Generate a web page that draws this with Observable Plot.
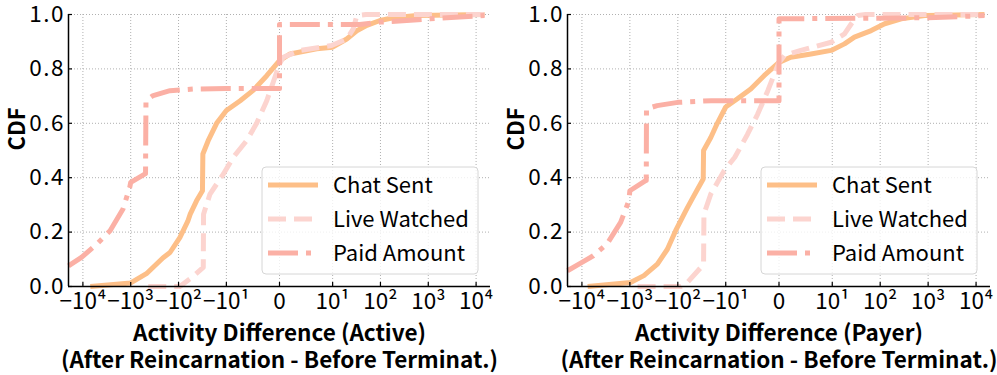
<!DOCTYPE html>
<html><head><meta charset="utf-8">
<script src="https://cdn.jsdelivr.net/npm/d3@7"></script>
<script src="https://cdn.jsdelivr.net/npm/@observablehq/plot@0.6"></script>
<style>
body{margin:0;background:#fff;}
#wrap{display:flex;width:997px;height:375px;overflow:hidden;}
.panel{position:relative;}
.legend{position:absolute;}
g[aria-label="y-axis tick label"] text{letter-spacing:1.5px;}
</style></head>
<body><div id="wrap"></div>
<script>
const FONT = '"Noto Sans CJK JP","Noto Sans",sans-serif';
const xTickValues = [-1e4, -1e3, -1e2, -1e1, 0, 1e1, 1e2, 1e3, 1e4];
const xTickLabels = ["−10⁴", "−10³", "−10²", "−10¹", "0", "10¹", "10²", "10³", "10⁴"];
const yTickValues = [0, 0.2, 0.4, 0.6, 0.8, 1.0];
const xLimits = [-2e4, 2e4];
const seriesNames = ["Chat Sent", "Live Watched", "Paid Amount"];
const seriesColors = ["#FDBF88", "#FCD4CF", "#FBB0A5"];
const panelTitles = ["Activity Difference (Active)", "Activity Difference (Payer)"];
const subTitle = "(After Reincarnation - Before Terminat.)";

// Panel 1: Active
const activeChatX = [-7000, -1000, -470, -213, -151, -94, -64, -57, -42, -31.6, -31, -24, -16, -10, -7.4, -4.9, -2.4, 0, 2, 7, 10, 19.7, 32, 52, 98, 186, 575, 15000];
const activeChatY = [0, 0.013, 0.047, 0.105, 0.125, 0.18, 0.24, 0.266, 0.315, 0.352, 0.487, 0.536, 0.6, 0.647, 0.683, 0.722, 0.775, 0.83, 0.855, 0.874, 0.88, 0.91, 0.94, 0.96, 0.978, 0.988, 0.996, 1.0];
const activeLiveX = [-430, -94, -53, -30.4, -30, -22, -11.6, -8.7, -6.2, -4.3, -2.4, -1.2, 0, 0.7, 3.9, 9.8, 19.7, 27, 32, 50, 15000];
const activeLiveY = [0, 0, 0.033, 0.07, 0.266, 0.34, 0.413, 0.475, 0.536, 0.6, 0.683, 0.75, 0.818, 0.843, 0.868, 0.886, 0.91, 0.947, 0.996, 1.0, 1.0];
const activePaidX = [-20000, -10700, -5100, -2700, -1450, -1050, -1000, -490, -480, -340, -151, -49, -10, 0, 0, 37, 100, 1100, 15000];
const activePaidY = [0.076, 0.107, 0.156, 0.205, 0.285, 0.364, 0.383, 0.415, 0.683, 0.702, 0.72, 0.726, 0.728, 0.728, 0.963, 0.963, 0.972, 0.984, 0.996];

// Panel 2: Payer
const payerChatX = [-7600, -970, -510, -267, -165, -111, -74, -63, -46, -29.5, -29, -20.5, -15, -10, -7.8, -5.3, -2.8, 0, 2.2, 6, 9.8, 18, 29, 65, 124, 275, 850, 15000];
const payerChatY = [0, 0.015, 0.04, 0.082, 0.137, 0.205, 0.266, 0.29, 0.334, 0.395, 0.5, 0.548, 0.6, 0.66, 0.69, 0.726, 0.775, 0.824, 0.843, 0.855, 0.868, 0.892, 0.917, 0.941, 0.966, 0.984, 0.996, 1.0];
const payerLiveX = [-690, -87, -63, -33, -29, -28.5, -20.5, -10.8, -8.3, -5.9, -4, -2.1, -0.9, 0, 1, 4.1, 9.8, 18, 25, 34, 50, 15000];
const payerLiveY = [0, 0, 0.015, 0.07, 0.082, 0.266, 0.34, 0.426, 0.475, 0.56, 0.634, 0.72, 0.78, 0.824, 0.849, 0.868, 0.898, 0.929, 0.966, 0.996, 1.0, 1.0];
const payerPaidX = [-20000, -10200, -5800, -3000, -1560, -1050, -1000, -470, -455, -450, -270, -100, -20, 0, 0, 1000, 15000];
const payerPaidY = [0.058, 0.088, 0.113, 0.156, 0.236, 0.315, 0.352, 0.389, 0.39, 0.653, 0.665, 0.677, 0.683, 0.683, 0.984, 0.988, 0.996];

// matplotlib-style symlog (base 10, linthresh 10, linscale 1)
const LIN = 10, LSA = 1 / (1 - 1 / 10);
function symlog(v) {
  const a = Math.abs(v);
  return a <= LIN ? (v / LIN) * LSA : Math.sign(v) * (LSA + Math.log10(a / LIN));
}

const dashes = [null, "18 8", "30 8 5 8"];

function rows(xs, ys) { return xs.map((x, i) => ({x: symlog(x), y: ys[i]})); }

function makePanel(idx, series, width, mLeft, mRight) {
  const mTop = 14, mBottom = 89, H = 375;
  const frameW = width - mLeft - mRight, frameH = H - mTop - mBottom;
  const xt = xTickValues.map(symlog);
  const labelOf = new Map(xt.map((v, i) => [v, xTickLabels[i]]));
  const gridStyle = {stroke: "#b0b0b0", strokeOpacity: 1, strokeWidth: 1, strokeDasharray: "1 2"};
  const marks = [
    Plot.gridX(xt, gridStyle),
    Plot.gridY(yTickValues, gridStyle),
  ];
  series.forEach((s, i) => {
    marks.push(Plot.line(rows(s[0], s[1]), {x: "x", y: "y", stroke: seriesColors[i], strokeWidth: 5, strokeDasharray: dashes[i], strokeLinecap: "butt", strokeLinejoin: "round"}));
  });
  marks.push(
    Plot.tickX(xt, {x: d => d, stroke: "black", strokeWidth: 1.2, insetTop: frameH - 4}),
    Plot.tickY(yTickValues, {y: d => d, stroke: "black", strokeWidth: 1.2, insetRight: frameW - 4}),
    Plot.ruleY([0], {stroke: "black", strokeWidth: 1.5}),
    Plot.ruleX([symlog(xLimits[0])], {stroke: "black", strokeWidth: 1.5}),
    Plot.axisX(xt, {tickSize: 0, tickPadding: 7, tickFormat: d => labelOf.get(d), fontSize: 22.5, fill: "black"}),
    Plot.axisY(yTickValues, {tickSize: 0, tickPadding: 3.5, tickFormat: d => d.toFixed(1), fontSize: 22.5, fill: "black"}),
    Plot.text(["CDF"], {frameAnchor: "left", dx: -51, rotate: -90, fontWeight: "bold", fontSize: 22, fill: "black"}),
    Plot.text([panelTitles[idx] + "\n" + subTitle], {frameAnchor: "bottom", dy: 35, lineAnchor: "top", lineHeight: 1.22, fontWeight: "bold", fontSize: 22.5, fill: "black"})
  );
  const chart = Plot.plot({
    width, height: H, marginLeft: mLeft, marginRight: mRight, marginTop: mTop, marginBottom: mBottom,
    x: {domain: xLimits.map(symlog), label: null},
    y: {domain: [0, 1], label: null},
    style: {fontFamily: FONT, fontSize: "22px", background: "white", color: "black", overflow: "visible"},
    marks
  });
  const div = document.createElement("div");
  div.className = "panel";
  div.style.width = width + "px";
  div.style.height = H + "px";
  div.appendChild(chart);

  // legend inside plot area (lower right)
  const ns = "http://www.w3.org/2000/svg";
  const lg = document.createElementNS(ns, "svg");
  lg.setAttribute("class", "legend");
  lg.setAttribute("width", 219); lg.setAttribute("height", 110);
  lg.style.left = (mLeft + 193) + "px";
  lg.style.top = "166px";
  const r = document.createElementNS(ns, "rect");
  r.setAttribute("x", 1); r.setAttribute("y", 1); r.setAttribute("width", 216); r.setAttribute("height", 107);
  r.setAttribute("rx", 4); r.setAttribute("fill", "rgba(255,255,255,0.8)"); r.setAttribute("stroke", "#d6d6d6");
  lg.appendChild(r);
  seriesNames.forEach((n, i) => {
    const yy = 19 + i * 34;
    const l = document.createElementNS(ns, "line");
    l.setAttribute("x1", 7); l.setAttribute("x2", 57); l.setAttribute("y1", yy); l.setAttribute("y2", yy);
    l.setAttribute("stroke", seriesColors[i]); l.setAttribute("stroke-width", 5);
    if (dashes[i]) l.setAttribute("stroke-dasharray", dashes[i]);
    lg.appendChild(l);
    const t = document.createElementNS(ns, "text");
    t.setAttribute("x", 72); t.setAttribute("y", yy); t.setAttribute("dy", "0.35em");
    t.setAttribute("font-family", FONT); t.setAttribute("font-size", 22); t.setAttribute("fill", "black");
    t.textContent = n;
    lg.appendChild(t);
  });
  div.appendChild(lg);
  return div;
}

const wrap = document.getElementById("wrap");
wrap.appendChild(makePanel(0, [[activeChatX, activeChatY], [activeLiveX, activeLiveY], [activePaidX, activePaidY]], 498, 68, 8));
wrap.appendChild(makePanel(1, [[payerChatX, payerChatY], [payerLiveX, payerLiveY], [payerPaidX, payerPaidY]], 499, 69, 7));
</script>
</body></html>
